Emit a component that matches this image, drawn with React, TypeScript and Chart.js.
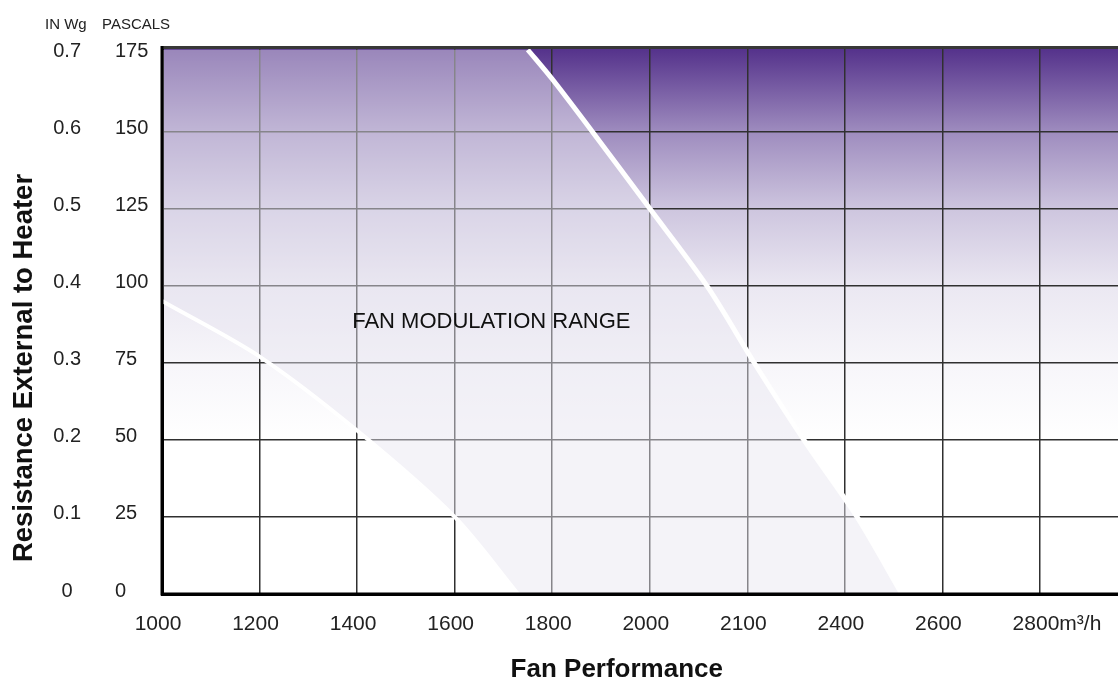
import { useEffect, useRef } from "react";
import { Chart, registerables } from "chart.js";

Chart.register(...registerables);

// ---- data ----
const X_TICKS = [1000, 1200, 1400, 1600, 1800, 2000, 2200, 2400, 2600, 2800];
const X_TICK_LABELS = ["1000", "1200", "1400", "1600", "1800", "2000", "2100", "2400", "2600", "2800m³/h"];
const PA_TICKS = [0, 25, 50, 75, 100, 125, 150, 175];
const PA_LABELS = ["0", "25", "50", "75", "100", "125", "150", "175"];
const INWG_TICKS = [0, 0.1, 0.2, 0.3, 0.4, 0.5, 0.6, 0.7];
const INWG_LABELS = ["0", "0.1", "0.2", "0.3", "0.4", "0.5", "0.6", "0.7"];

const X_MIN = 1000;
const X_MAX = 2960;
const PA_MAX = 177.4;

// upper boundary (maximum fan curve), Pa vs m³/h
const RIGHT_CURVE_X = [1750, 1800, 1882, 2000, 2119, 2216, 2318, 2425, 2517];
const RIGHT_CURVE_Y = [176.5, 167, 150, 125, 99.5, 74.5, 49.5, 25, 0];
// lower boundary (minimum fan curve)
const LEFT_CURVE_X = [1000, 1200, 1400, 1600, 1730];
const LEFT_CURVE_Y = [95, 77, 53, 25, 0];

const REGION_LABEL = "FAN MODULATION RANGE";
const REGION_LABEL_AT = { x: 1390, y: 86.4 };

const FONT = "'Liberation Sans', Arial, Helvetica, sans-serif";

const GRADIENT_STOPS: [number, string][] = [
  [0, "#53308a"],
  [0.157, "#9f8dbf"],
  [0.298, "#cec6df"],
  [0.44, "#ebe8f2"],
  [0.581, "#f7f6fa"],
  [0.72, "#ffffff"],
  [1, "#ffffff"],
];

const rightPts = RIGHT_CURVE_X.map((x, i) => ({ x, y: RIGHT_CURVE_Y[i] }));
const leftPts = LEFT_CURVE_X.map((x, i) => ({ x, y: LEFT_CURVE_Y[i] }));
const overlayPts = [
  { x: LEFT_CURVE_X[0], y: RIGHT_CURVE_Y[0] },
  ...rightPts,
  ...leftPts.slice().reverse(),
];

const decor = {
  id: "decor",
  beforeDraw(chart: any) {
    const { ctx, chartArea: a } = chart;
    const g = ctx.createLinearGradient(0, a.top, 0, a.bottom);
    GRADIENT_STOPS.forEach(([o, c]) => g.addColorStop(o, c));
    ctx.save();
    ctx.fillStyle = g;
    ctx.fillRect(a.left, a.top, a.right - a.left, a.bottom - a.top);
    ctx.restore();
  },
  afterDatasetsDraw(chart: any) {
    const { ctx, scales } = chart;
    ctx.save();
    ctx.font = `22px ${FONT}`;
    ctx.fillStyle = "#111";
    ctx.textAlign = "left";
    ctx.textBaseline = "alphabetic";
    ctx.fillText(
      REGION_LABEL,
      scales.x.getPixelForValue(REGION_LABEL_AT.x),
      scales.y.getPixelForValue(REGION_LABEL_AT.y)
    );
    ctx.restore();
  },
  afterDraw(chart: any) {
    const { ctx, chartArea: a, scales } = chart;
    ctx.save();
    // borders
    ctx.strokeStyle = "#383838";
    ctx.lineWidth = 3;
    ctx.beginPath();
    ctx.moveTo(a.left, a.top + 0.5);
    ctx.lineTo(a.right, a.top + 0.5);
    ctx.stroke();
    ctx.strokeStyle = "#000";
    ctx.beginPath();
    ctx.moveTo(a.left, a.top - 1);
    ctx.lineTo(a.left, a.bottom);
    ctx.lineTo(a.right, a.bottom);
    ctx.stroke();

    // x tick labels
    ctx.font = `21px ${FONT}`;
    ctx.fillStyle = "#222";
    ctx.textAlign = "left";
    ctx.textBaseline = "alphabetic";
    X_TICKS.forEach((v, i) => {
      const label = X_TICK_LABELS[i];
      const m = label.match(/^[0-9]+/);
      const w = ctx.measureText(m ? m[0] : label).width;
      ctx.fillText(label, scales.x.getPixelForValue(v) - w / 2 - 4, 630);
    });

    // header labels
    ctx.font = `15px ${FONT}`;
    ctx.fillStyle = "#222";
    ctx.fillText("IN Wg", 45, 29);
    ctx.fillText("PASCALS", 102, 29);

    // axis titles
    ctx.font = `bold 26px ${FONT}`;
    ctx.fillStyle = "#111";
    ctx.textAlign = "right";
    ctx.fillText("Fan Performance", 723, 677);

    ctx.font = `bold 27.5px ${FONT}`;
    ctx.translate(32, 368);
    ctx.rotate(-Math.PI / 2);
    ctx.textAlign = "center";
    ctx.fillText("Resistance External to Heater", 0, 0);
    ctx.restore();
  },
};

export default function App() {
  const ref = useRef<HTMLCanvasElement>(null);
  useEffect(() => {
    const chart = new Chart(ref.current as HTMLCanvasElement, {
      type: "line",
      data: {
        datasets: [
          {
            label: "Max",
            data: rightPts,
            borderColor: "#ffffff",
            borderWidth: 5,
            pointRadius: 0,
            tension: 0.3,
            fill: false,
            order: 1,
          },
          {
            label: "Min",
            data: leftPts,
            borderColor: "#ffffff",
            borderWidth: 4,
            pointRadius: 0,
            tension: 0.3,
            fill: false,
            order: 1,
          },
          {
            label: "Range",
            data: overlayPts,
            borderWidth: 0,
            borderColor: "rgba(0,0,0,0)",
            backgroundColor: "rgba(232,230,240,0.47)",
            pointRadius: 0,
            tension: 0,
            fill: "shape",
            order: 2,
          },
        ],
      },
      options: {
        animation: false,
        responsive: false,
        devicePixelRatio: 1,
        layout: { padding: { top: 47, left: 0, right: 0, bottom: 0 } },
        plugins: { legend: { display: false }, tooltip: { enabled: false } },
        scales: {
          x: {
            type: "linear",
            min: X_MIN,
            max: X_MAX,
            afterBuildTicks: (s: any) => {
              s.ticks = X_TICKS.map((v) => ({ value: v }));
            },
            afterFit: (s: any) => {
              s.height = 86;
            },
            ticks: { display: false },
            grid: { color: "#303030", lineWidth: 1.5, drawTicks: false },
            border: { display: true, color: "#000", width: 3 },
          },
          y: {
            type: "linear",
            position: "left",
            weight: 1,
            min: 0,
            max: PA_MAX,
            afterBuildTicks: (s: any) => {
              s.ticks = PA_TICKS.map((v) => ({ value: v }));
            },
            afterFit: (s: any) => {
              s.width = 47;
            },
            ticks: {
              callback: (_v: any, i: number) => PA_LABELS[i],
              crossAlign: "far",
              padding: 0,
              color: "#222",
              font: { family: FONT, size: 20 },
              labelOffset: -3,
            },
            grid: {
              color: (c: any) =>
                c.tick && (c.tick.value === 175 || c.tick.value === 0) ? "rgba(0,0,0,0)" : "#303030",
              lineWidth: 1.5,
              drawTicks: false,
            },
            border: { display: true, color: "#000", width: 3 },
          },
          y2: {
            type: "linear",
            position: "left",
            weight: 2,
            min: 0,
            max: PA_MAX / 250,
            afterBuildTicks: (s: any) => {
              s.ticks = INWG_TICKS.map((v) => ({ value: v }));
            },
            afterFit: (s: any) => {
              s.width = 115;
            },
            ticks: {
              callback: (_v: any, i: number) => INWG_LABELS[i],
              crossAlign: "center",
              padding: 34,
              color: "#222",
              font: { family: FONT, size: 20 },
              labelOffset: -3,
            },
            grid: { display: false, drawTicks: false },
            border: { display: false },
          },
        },
      } as any,
      plugins: [decor],
    });
    return () => chart.destroy();
  }, []);
  return (
    <div style={{ position: "absolute", left: 0, top: 0, width: 1118, height: 680, background: "#fff" }}>
      <canvas ref={ref} width={1118} height={680} style={{ display: "block" }} />
    </div>
  );
}
